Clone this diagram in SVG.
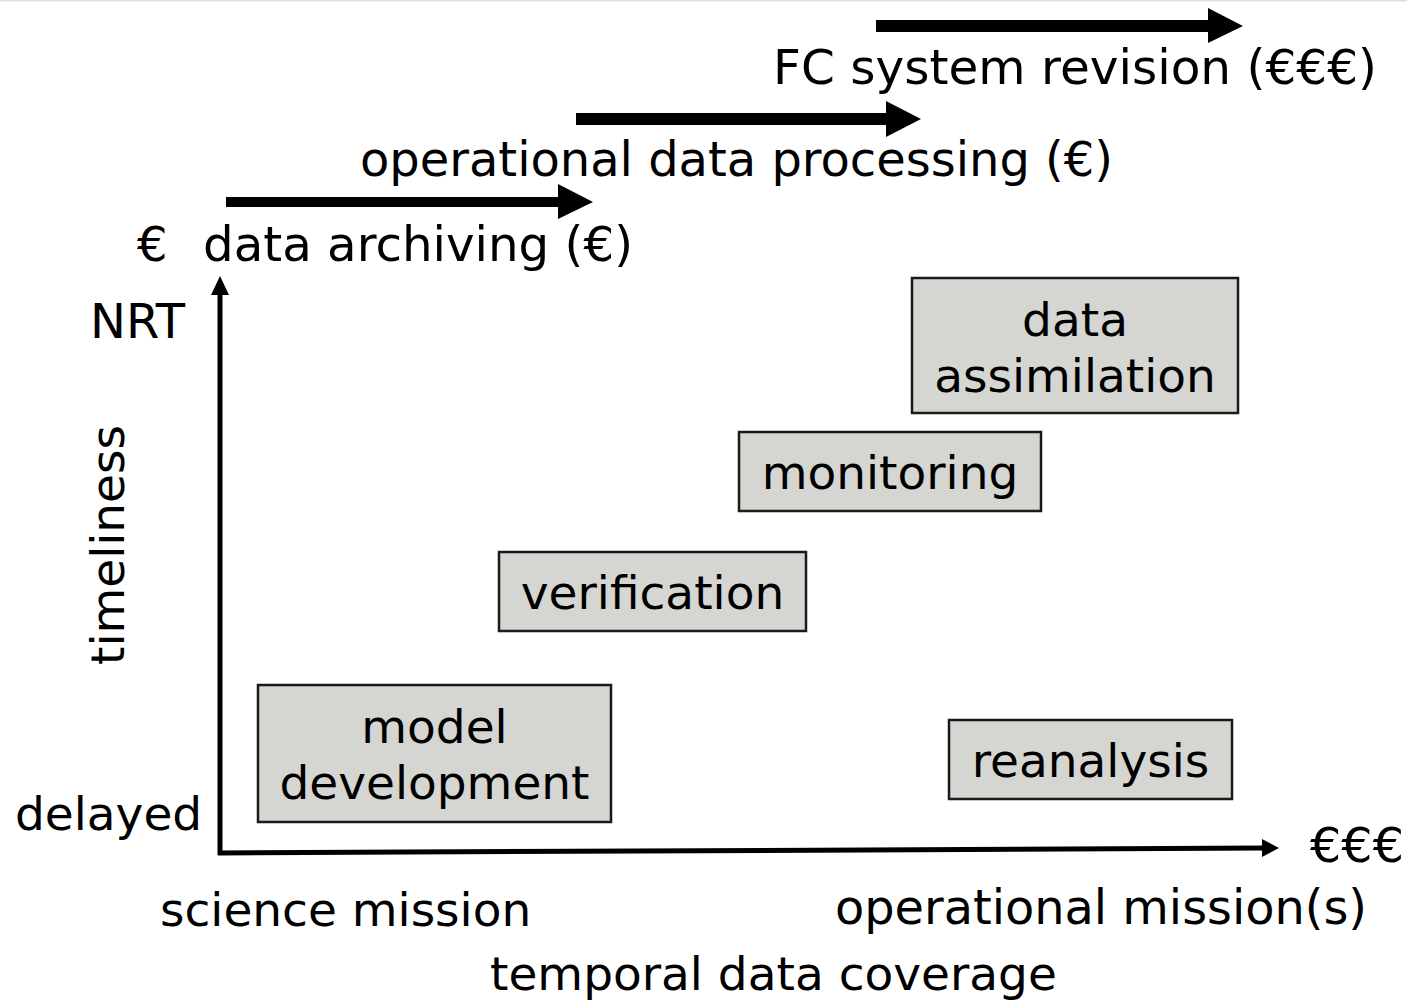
<svg xmlns="http://www.w3.org/2000/svg" width="1407" height="1000" viewBox="0 0 1407 1000">
<defs>
<style>
text{font-family:"DejaVu Sans","Liberation Sans",sans-serif;font-size:47px;fill:#000}
.lab{font-size:48px}
.box{fill:#d5d5d1;stroke:#1a1a1a;stroke-width:2.5}
.mid{text-anchor:middle}
.ax{stroke:#000;stroke-width:5;fill:none}
.head{fill:#000}
</style>
</defs>
<rect width="1407" height="1000" fill="#fff"/>
<line x1="0" y1="0.5" x2="1407" y2="0.5" stroke="#e0e0e0" stroke-width="2"/>
<g id="connectors">
<line class="ax" x1="220" y1="855" x2="220" y2="292"/>
<polygon class="head" points="220,276 229,295 211,295"/>
<line class="ax" x1="218" y1="853" x2="1264" y2="848"/>
<polygon class="head" points="1279,848 1262,839 1262,857"/>
<path d="M226,197 H558 V184 L593,202 L558,219 V207 H226 Z" fill="#000"/>
<path d="M576,113 H886 V101 L921,119 L886,137 V125 H576 Z" fill="#000"/>
<path d="M876,20 H1208 V8 L1243,26 L1208,43 V32 H876 Z" fill="#000"/>
</g>
<g id="labels">
<text class="lab" x="773" y="84" textLength="604" lengthAdjust="spacingAndGlyphs">FC system revision (€€€)</text>
<text class="lab" x="360" y="176" textLength="753" lengthAdjust="spacingAndGlyphs">operational data processing (€)</text>
<text class="lab" x="137" y="261">€</text>
<text class="lab" x="203" y="261" textLength="430" lengthAdjust="spacingAndGlyphs">data archiving (€)</text>
<text class="lab" x="90" y="338">NRT</text>
<text x="15" y="830">delayed</text>
<text class="mid" transform="translate(124,545) rotate(-90)">timeliness</text>
<text class="lab" x="1310" y="862" textLength="94" lengthAdjust="spacingAndGlyphs">€€€</text>
<text x="160" y="926">science mission</text>
<text class="lab" x="835" y="924" textLength="532" lengthAdjust="spacingAndGlyphs">operational mission(s)</text>
<text x="490" y="990">temporal data coverage</text>
</g>
<g id="node-data-assimilation">
<rect class="box" x="912" y="278" width="326" height="135"/>
<text class="mid" x="1075" y="336">data</text>
<text class="mid" x="1075" y="392">assimilation</text>
</g>
<g id="node-monitoring">
<rect class="box" x="739" y="432" width="302" height="79"/>
<text class="mid" x="890" y="489">monitoring</text>
</g>
<g id="node-verification">
<rect class="box" x="499" y="552" width="307" height="79"/>
<text class="mid" x="652.5" y="609">verification</text>
</g>
<g id="node-model-development">
<rect class="box" x="258" y="685" width="353" height="137"/>
<text class="mid" x="434.5" y="743">model</text>
<text class="mid" x="434.5" y="799">development</text>
</g>
<g id="node-reanalysis">
<rect class="box" x="949" y="720" width="283" height="79"/>
<text class="mid" x="1090.5" y="777">reanalysis</text>
</g>
</svg>
